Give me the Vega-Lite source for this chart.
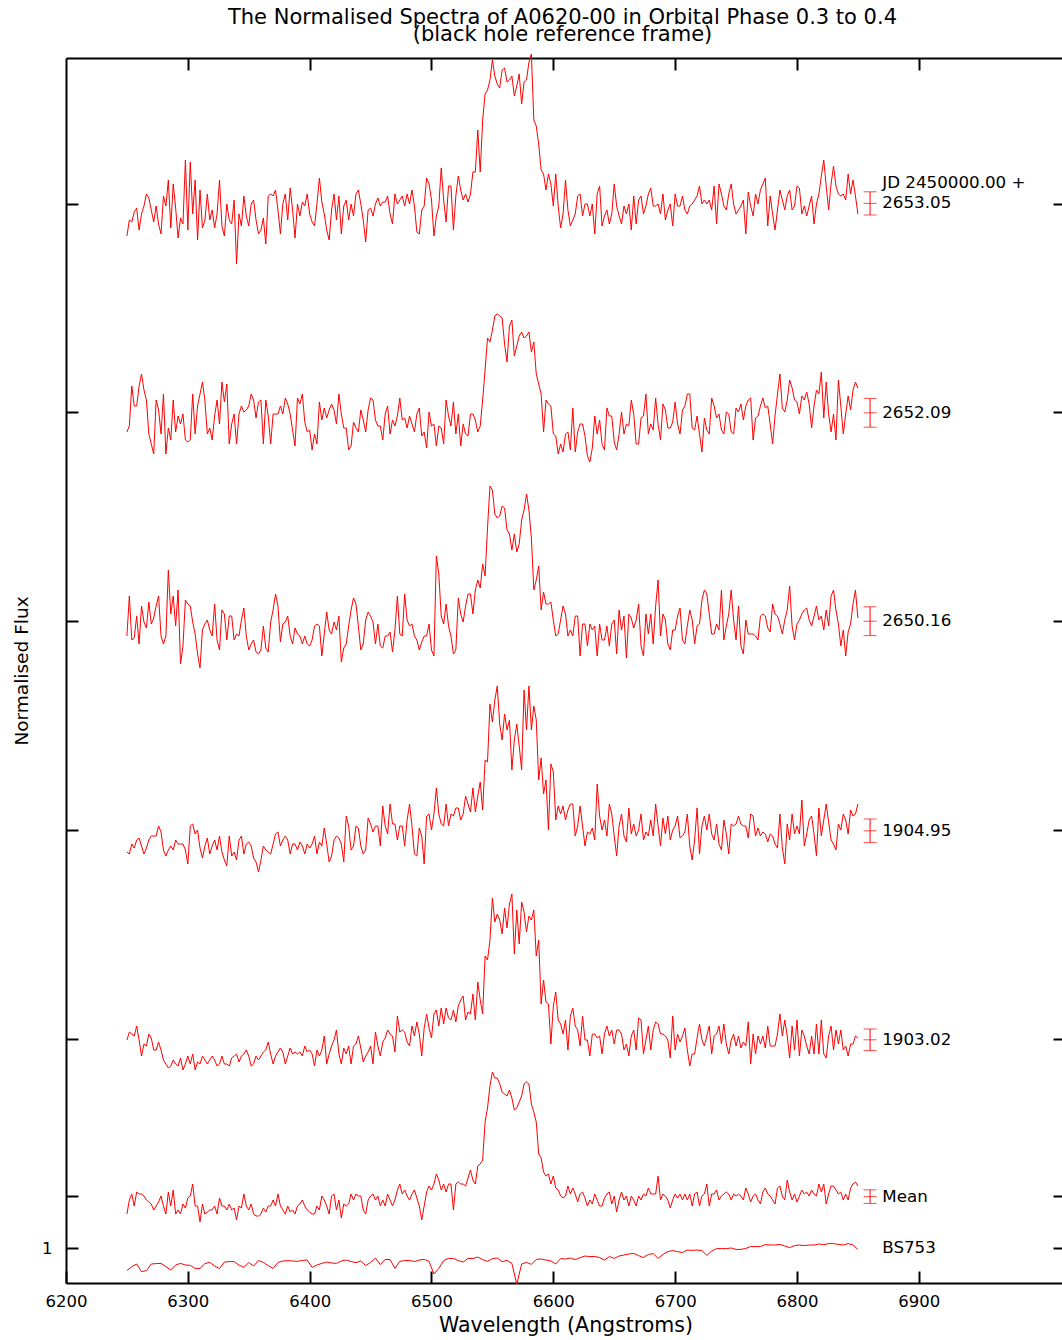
{
"$schema": "https://vega.github.io/schema/vega-lite/v6.json",
"width": 999,
"height": 1225,
"autosize": {"type": "none"},
"padding": {"left": 66, "top": 58, "right": 0, "bottom": 57},
"background": "white",
"title": {"text": "The Normalised Spectra of A0620-00 in Orbital Phase 0.3 to 0.4", "subtitle": "(black hole reference frame)", "font": "DejaVu Sans", "fontSize": 21, "fontWeight": "normal", "color": "black", "subtitleFont": "DejaVu Sans", "subtitleFontSize": 21, "subtitleColor": "black", "anchor": "middle", "offset": 7, "subtitlePadding": -3.5, "dx": -3},
"config": {"view": {"stroke": null}, "axis": {"domainColor": "black", "domainWidth": 2, "tickColor": "black", "tickWidth": 2, "tickSize": -12, "grid": false, "labelFont": "DejaVu Sans", "labelFontSize": 16.5, "labelColor": "black", "labelFlush": false, "titleFont": "DejaVu Sans", "titleFontWeight": "normal", "titleColor": "black"}},
"datasets": {
"spectra": [{
"x": [6250,6252,6254,6256,6258,6260,6262,6264,6266,6268,6270,6272,6274,6276,6278,6280,6282,6284,6286,6288,6290,6292,6294,6296,6298,6300,6302,6304,6306,6308,6310,6312,6314,6316,6318,6320,6322,6324,6326,6328,6330,6332,6334,6336,6338,6340,6342,6344,6346,6348,6350,6352,6354,6356,6358,6360,6362,6364,6366,6368,6370,6372,6374,6376,6378,6380,6382,6384,6386,6388,6390,6392,6394,6396,6398,6400,6402,6404,6406,6408,6410,6412,6414,6416,6418,6420,6422,6424,6426,6428,6430,6432,6434,6436,6438,6440,6442,6444,6446,6448,6450,6452,6454,6456,6458,6460,6462,6464,6466,6468,6470,6472,6474,6476,6478,6480,6482,6484,6486,6488,6490,6492,6494,6496,6498,6500,6502,6504,6506,6508,6510,6512,6514,6516,6518,6520,6522,6524,6526,6528,6530,6532,6534,6536,6538,6540,6542,6544,6546,6548,6550,6552,6554,6556,6558,6560,6562,6564,6566,6568,6570,6572,6574,6576,6578,6580,6582,6584,6586,6588,6590,6592,6594,6596,6598,6600,6602,6604,6606,6608,6610,6612,6614,6616,6618,6620,6622,6624,6626,6628,6630,6632,6634,6636,6638,6640,6642,6644,6646,6648,6650,6652,6654,6656,6658,6660,6662,6664,6666,6668,6670,6672,6674,6676,6678,6680,6682,6684,6686,6688,6690,6692,6694,6696,6698,6700,6702,6704,6706,6708,6710,6712,6714,6716,6718,6720,6722,6724,6726,6728,6730,6732,6734,6736,6738,6740,6742,6744,6746,6748,6750,6752,6754,6756,6758,6760,6762,6764,6766,6768,6770,6772,6774,6776,6778,6780,6782,6784,6786,6788,6790,6792,6794,6796,6798,6800,6802,6804,6806,6808,6810,6812,6814,6816,6818,6820,6822,6824,6826,6828,6830,6832,6834,6836,6838,6840,6842,6844,6846,6848,6850],
"s2653": [6.06,6.14,6.13,6.18,6.2,6.09,6.17,6.21,6.27,6.25,6.19,6.13,6.21,6.12,6.07,6.26,6.21,6.34,6.1,6.32,6.2,6.05,6.15,6.12,6.44,6.09,6.43,6.17,6.34,6.04,6.29,6.1,6.14,6.27,6.14,6.19,6.1,6.17,6.34,6.11,6.06,6.22,6.14,6.12,6.24,5.92,6.17,6.11,6.26,6.16,6.11,6.22,6.24,6.14,6.07,6.09,6.15,6.02,6.26,6.27,6.26,6.29,6.19,6.07,6.22,6.27,6.14,6.3,6.19,6.05,6.22,6.16,6.23,6.21,6.27,6.17,6.13,6.11,6.22,6.35,6.23,6.17,6.09,6.04,6.19,6.27,6.14,6.26,6.07,6.21,6.24,6.14,6.22,6.16,6.27,6.29,6.22,6.14,6.03,6.19,6.2,6.16,6.22,6.25,6.21,6.23,6.23,6.26,6.17,6.12,6.27,6.22,6.24,6.26,6.21,6.27,6.22,6.29,6.21,6.08,6.07,6.19,6.21,6.35,6.32,6.24,6.06,6.16,6.21,6.4,6.24,6.13,6.31,6.31,6.09,6.26,6.36,6.29,6.24,6.27,6.23,6.27,6.38,6.38,6.59,6.38,6.64,6.77,6.79,6.84,6.94,6.86,6.82,6.8,6.89,6.9,6.83,6.84,6.86,6.76,6.81,6.87,6.72,6.83,6.84,6.93,6.97,6.64,6.61,6.52,6.39,6.37,6.29,6.37,6.32,6.21,6.37,6.21,6.1,6.17,6.34,6.19,6.11,6.14,6.17,6.26,6.27,6.16,6.22,6.22,6.16,6.22,6.07,6.27,6.31,6.11,6.16,6.19,6.12,6.17,6.32,6.21,6.16,6.12,6.21,6.17,6.22,6.09,6.26,6.12,6.24,6.26,6.17,6.21,6.27,6.3,6.21,6.21,6.22,6.17,6.27,6.14,6.19,6.22,6.11,6.27,6.21,6.21,6.26,6.19,6.17,6.21,6.22,6.24,6.26,6.31,6.22,6.24,6.22,6.24,6.19,6.31,6.12,6.32,6.27,6.21,6.19,6.27,6.32,6.22,6.17,6.19,6.21,6.24,6.07,6.28,6.21,6.16,6.27,6.22,6.29,6.32,6.35,6.11,6.26,6.17,6.09,6.19,6.29,6.24,6.19,6.26,6.29,6.19,6.21,6.31,6.3,6.17,6.21,6.16,6.21,6.26,6.12,6.22,6.27,6.36,6.44,6.31,6.19,6.32,6.41,6.31,6.27,6.26,6.27,6.24,6.37,6.27,6.34,6.26,6.17],
"s2652": [5.08,5.11,5.31,5.21,5.21,5.31,5.37,5.29,5.24,5.07,5.02,4.97,5.24,5.19,5.07,5.27,4.97,5.1,5.04,5.24,5.08,5.16,5.12,5.17,5.04,5.03,5.04,5.27,5.07,5.21,5.27,5.33,5.24,5.07,5.1,5.04,5.16,5.24,5.12,5.33,5.23,5.32,5.02,5.12,5.17,5.02,5.17,5.21,5.18,5.19,5.21,5.27,5.24,5.15,5.23,5.24,5.02,5.24,5.16,5.02,5.17,5.17,5.17,5.21,5.17,5.25,5.22,5.17,5.09,5.01,5.25,5.22,5.27,5.13,5.08,5.09,4.99,5.07,5.02,5.23,5.14,5.2,5.15,5.19,5.22,5.19,5.12,5.27,5.17,5.1,5.1,4.99,5.01,5.13,5.1,5.08,5.19,5.14,5.08,5.19,5.25,5.24,5.14,5.11,5.11,5.04,5.17,5.21,5.07,5.14,5.11,5.16,5.25,5.14,5.15,5.1,5.16,5.12,5.08,5.17,5.2,5.06,5.08,5.0,5.18,5.11,5.12,5.01,5.11,5.1,5.02,5.24,5.16,5.11,5.23,5.07,5.17,5.01,5.12,5.07,5.06,5.17,5.17,5.14,5.08,5.11,5.24,5.39,5.55,5.53,5.59,5.66,5.67,5.66,5.65,5.52,5.43,5.61,5.64,5.46,5.51,5.56,5.58,5.55,5.56,5.58,5.48,5.53,5.37,5.32,5.27,5.08,5.24,5.22,5.21,5.07,5.06,4.97,5.02,4.98,5.07,5.08,4.99,5.2,4.98,5.08,5.12,5.12,5.06,4.96,4.93,5.0,5.16,5.07,5.14,5.02,4.99,5.2,5.16,5.16,5.03,4.99,5.07,5.18,5.07,5.12,5.11,5.24,5.17,5.02,5.02,5.15,5.16,5.27,5.07,5.12,5.09,5.25,5.12,5.04,5.22,5.19,5.1,5.1,5.13,5.23,5.12,5.07,5.19,5.21,5.27,5.27,5.1,5.09,5.16,5.07,4.98,5.15,5.09,5.07,5.25,5.21,5.15,5.17,5.09,5.07,5.18,5.17,5.08,5.07,5.2,5.18,5.22,5.14,5.21,5.24,5.25,5.04,5.15,5.16,5.21,5.25,5.2,5.21,5.12,5.02,5.16,5.27,5.37,5.2,5.18,5.24,5.34,5.3,5.24,5.23,5.17,5.26,5.24,5.28,5.22,5.1,5.21,5.29,5.27,5.38,5.15,5.33,5.17,5.08,5.17,5.04,5.34,5.21,5.07,5.17,5.26,5.19,5.29,5.33,5.3],
"s2650": [4.06,4.26,4.04,4.05,4.16,4.02,4.21,4.13,4.1,4.23,4.12,4.15,4.21,4.26,4.06,4.02,4.06,4.39,4.17,4.26,4.11,4.29,3.92,4.01,4.24,4.22,4.21,4.13,4.07,3.97,3.9,4.09,4.12,4.14,4.09,4.06,4.22,4.04,3.99,4.19,4.17,4.04,4.16,4.16,4.04,4.07,4.06,4.14,4.2,4.06,3.99,4.02,4.04,3.98,3.97,3.99,4.11,4.0,3.98,4.13,4.19,4.27,4.21,4.03,4.12,4.13,4.16,4.06,4.02,4.1,4.07,4.06,4.02,4.06,4.02,4.01,4.04,4.11,4.12,4.11,3.96,4.07,4.18,4.09,4.07,4.13,4.09,4.16,3.93,4.0,4.02,4.11,4.19,4.25,4.22,4.11,3.99,4.02,4.14,4.18,4.16,4.13,4.02,4.12,4.01,4.0,4.06,4.06,4.08,3.98,4.09,4.26,4.07,4.06,4.27,4.14,4.11,4.12,4.06,4.04,3.99,4.03,4.06,4.06,4.12,3.99,3.96,4.46,4.37,4.16,4.12,4.22,4.11,4.06,3.97,3.99,4.25,4.17,4.13,4.21,4.27,4.27,4.17,4.29,4.34,4.3,4.42,4.36,4.6,4.81,4.79,4.67,4.65,4.66,4.71,4.7,4.59,4.57,4.49,4.57,4.48,4.52,4.64,4.69,4.77,4.69,4.55,4.29,4.34,4.41,4.19,4.28,4.22,4.22,4.23,4.14,4.06,4.07,4.14,4.21,4.17,4.06,4.09,4.06,4.16,4.16,3.96,4.12,4.12,4.01,4.12,4.09,4.11,3.96,4.12,4.04,4.04,4.11,4.01,4.12,4.14,3.97,4.19,4.09,4.16,3.95,4.17,4.15,4.1,4.14,4.22,4.01,3.96,4.17,4.07,4.17,4.02,4.21,4.34,4.06,4.17,4.14,4.02,3.99,4.09,4.09,4.16,4.2,4.04,4.02,4.11,4.19,4.14,4.02,4.11,4.12,4.24,4.29,4.27,4.17,4.07,4.07,4.12,4.09,4.29,4.04,4.11,4.17,4.29,4.14,4.04,4.21,4.01,3.97,4.14,4.07,4.07,4.07,4.06,4.04,4.16,4.17,4.16,4.1,4.08,4.22,4.17,4.16,4.12,4.07,4.14,4.19,4.31,4.11,4.04,4.12,4.14,4.17,4.19,4.2,4.14,4.11,4.16,4.21,4.14,4.16,4.09,4.19,4.11,4.26,4.29,4.19,4.12,4.01,4.09,3.96,4.08,4.12,4.22,4.29,4.15],
"s1904": [2.98,2.97,3.02,3.0,3.04,3.05,3.01,2.97,3.0,3.04,3.06,3.06,3.06,3.11,3.08,2.99,2.96,2.99,3.01,2.99,3.04,3.02,3.02,3.02,2.99,2.92,3.11,3.12,3.07,3.09,3.0,2.95,3.01,3.05,2.97,3.01,3.04,2.99,3.06,2.98,2.94,2.91,3.06,2.96,2.98,2.94,3.04,3.06,2.97,3.02,3.03,3.01,2.95,2.93,2.88,2.94,3.01,2.99,2.98,2.97,3.02,3.07,3.08,3.01,3.04,3.06,3.04,2.97,3.02,3.02,2.99,3.03,3.01,2.97,3.02,3.0,3.02,3.06,2.97,3.03,3.01,3.1,3.02,2.93,2.96,3.04,3.06,3.05,3.02,2.93,3.16,3.11,2.99,3.01,3.11,3.1,3.01,2.97,2.99,3.15,3.12,3.08,3.11,3.11,3.01,3.21,3.11,3.07,3.22,3.12,3.12,3.04,3.11,3.11,3.01,3.14,3.22,3.11,2.97,2.96,3.1,3.06,2.92,3.16,3.17,3.09,3.17,3.3,3.17,3.12,3.11,3.22,3.11,3.17,3.16,3.2,3.2,3.14,3.17,3.26,3.22,3.18,3.3,3.18,3.26,3.33,3.19,3.44,3.43,3.72,3.63,3.74,3.81,3.62,3.54,3.67,3.59,3.64,3.39,3.54,3.62,3.51,3.39,3.79,3.59,3.81,3.59,3.71,3.64,3.34,3.45,3.27,3.34,3.09,3.42,3.38,3.14,3.21,3.17,3.21,3.14,3.19,3.22,3.22,3.06,3.11,3.21,3.11,3.01,3.08,3.07,3.1,3.04,3.32,3.16,3.09,3.14,3.06,3.22,3.17,3.06,2.96,3.11,3.17,3.06,3.03,3.2,3.07,3.12,3.06,3.09,3.17,3.04,3.08,3.06,3.14,3.06,3.22,3.11,3.01,3.15,3.07,3.16,3.04,3.09,3.11,3.16,3.05,3.06,3.08,3.17,3.01,2.94,3.04,3.2,2.97,3.11,3.16,3.09,3.17,3.07,3.04,3.12,3.02,2.99,3.14,3.07,2.97,3.12,3.11,3.12,3.16,3.12,3.11,3.11,3.05,3.17,3.16,3.06,3.1,3.06,3.08,3.07,3.03,3.07,3.06,3.02,3.0,3.17,3.0,2.92,3.12,3.04,3.17,3.07,3.11,3.07,3.24,3.01,3.07,3.14,3.16,3.07,2.96,3.2,3.06,3.14,3.22,3.13,3.04,3.02,2.99,3.12,3.09,3.17,3.14,3.07,3.19,3.16,3.17,3.22],
"s1903": [2.04,2.08,2.07,2.06,2.11,2.04,1.96,2.02,2.01,2.07,2.05,1.99,1.99,2.03,1.99,1.94,1.92,1.9,1.91,1.94,1.92,1.91,1.95,1.89,1.92,1.96,1.92,1.97,1.89,1.93,1.92,1.96,1.94,1.92,1.94,1.96,1.94,1.91,1.92,1.96,1.92,1.92,1.91,1.95,1.96,1.97,1.93,1.96,1.97,1.99,1.96,1.91,1.92,1.96,1.94,1.96,1.98,1.99,2.03,1.97,1.92,1.96,1.98,2.0,1.98,1.92,1.96,2.0,1.97,1.98,1.97,1.98,1.96,2.01,1.98,1.99,1.97,1.91,1.99,1.96,1.99,2.06,1.92,1.97,2.01,2.04,2.09,1.97,1.92,2.0,1.97,2.01,1.92,2.01,2.02,2.06,2.0,1.93,1.96,1.98,2.01,1.92,2.08,2.01,1.96,2.03,2.05,2.09,2.07,2.06,1.98,2.16,2.08,2.09,2.08,2.03,2.01,2.11,2.06,2.13,2.07,1.96,2.1,2.17,2.1,2.05,2.17,2.19,2.11,2.2,2.12,2.2,2.15,2.14,2.19,2.13,2.21,2.24,2.26,2.14,2.18,2.17,2.27,2.14,2.33,2.24,2.17,2.46,2.44,2.54,2.75,2.63,2.67,2.64,2.57,2.7,2.6,2.72,2.77,2.47,2.69,2.52,2.73,2.68,2.58,2.66,2.64,2.69,2.46,2.54,2.22,2.34,2.23,2.22,2.02,2.21,2.28,2.14,2.12,2.07,2.14,1.99,2.16,2.2,2.11,2.09,2.01,2.16,2.04,2.04,1.96,2.07,2.07,2.05,2.06,1.97,2.07,2.11,2.06,2.09,2.02,2.09,2.09,2.07,1.99,2.02,1.96,2.06,2.09,1.99,2.15,2.14,1.97,2.04,2.11,1.99,2.09,2.13,2.12,2.07,2.07,2.06,2.04,1.95,2.16,1.99,2.07,2.03,2.06,2.1,1.99,1.91,1.97,1.97,2.05,2.12,2.04,2.01,2.06,2.11,1.97,2.06,2.07,2.11,2.02,2.12,2.02,1.97,2.04,2.07,2.01,2.06,2.0,2.03,2.01,2.13,1.92,2.07,1.97,2.06,2.02,2.06,2.0,2.11,2.01,2.01,2.01,2.07,2.17,2.06,2.14,2.06,1.95,2.11,1.99,2.14,1.96,2.09,2.06,2.01,1.97,2.06,1.97,2.12,1.97,2.14,1.97,1.95,2.06,2.11,1.99,2.09,2.02,2.09,1.99,2.01,1.96,2.02,2.02,2.06,2.05],
"mean": [1.17,1.24,1.27,1.21,1.28,1.27,1.27,1.26,1.24,1.23,1.22,1.19,1.21,1.23,1.26,1.21,1.17,1.28,1.21,1.29,1.17,1.19,1.17,1.22,1.2,1.25,1.26,1.32,1.21,1.21,1.13,1.22,1.17,1.18,1.19,1.19,1.21,1.17,1.25,1.21,1.21,1.19,1.22,1.19,1.2,1.14,1.21,1.2,1.27,1.21,1.19,1.22,1.17,1.16,1.16,1.17,1.2,1.18,1.21,1.21,1.24,1.21,1.27,1.21,1.19,1.17,1.21,1.18,1.19,1.17,1.21,1.22,1.24,1.21,1.19,1.18,1.17,1.17,1.21,1.19,1.26,1.24,1.21,1.17,1.26,1.27,1.19,1.24,1.15,1.22,1.21,1.22,1.27,1.24,1.27,1.26,1.26,1.19,1.17,1.24,1.26,1.27,1.24,1.26,1.21,1.24,1.21,1.27,1.24,1.21,1.24,1.29,1.32,1.27,1.29,1.26,1.24,1.27,1.29,1.25,1.21,1.14,1.21,1.28,1.31,1.29,1.32,1.37,1.34,1.29,1.32,1.28,1.32,1.32,1.19,1.32,1.33,1.32,1.32,1.31,1.35,1.39,1.34,1.32,1.41,1.42,1.44,1.63,1.7,1.81,1.88,1.85,1.85,1.82,1.78,1.77,1.76,1.79,1.75,1.69,1.7,1.73,1.76,1.82,1.83,1.82,1.72,1.68,1.63,1.47,1.45,1.38,1.36,1.37,1.32,1.36,1.3,1.29,1.26,1.25,1.26,1.31,1.27,1.3,1.27,1.23,1.27,1.28,1.25,1.21,1.24,1.22,1.27,1.24,1.21,1.21,1.25,1.27,1.28,1.22,1.26,1.18,1.24,1.28,1.24,1.26,1.21,1.26,1.24,1.21,1.26,1.24,1.27,1.26,1.3,1.27,1.27,1.27,1.36,1.24,1.27,1.26,1.24,1.2,1.24,1.27,1.25,1.27,1.24,1.27,1.24,1.27,1.21,1.27,1.28,1.21,1.26,1.27,1.32,1.21,1.27,1.27,1.29,1.24,1.26,1.27,1.28,1.27,1.24,1.27,1.26,1.27,1.26,1.24,1.3,1.27,1.23,1.26,1.27,1.24,1.22,1.28,1.3,1.27,1.26,1.24,1.22,1.3,1.31,1.26,1.24,1.34,1.28,1.24,1.27,1.23,1.26,1.29,1.27,1.28,1.26,1.29,1.27,1.26,1.32,1.28,1.32,1.22,1.27,1.31,1.31,1.29,1.27,1.28,1.24,1.27,1.24,1.3,1.32,1.33,1.31]
}],
"bs753": [{
"x": [6250,6254,6258,6262,6266,6270,6274,6278,6282,6286,6290,6294,6298,6302,6306,6310,6314,6318,6322,6326,6330,6334,6338,6342,6346,6350,6354,6358,6362,6366,6370,6374,6378,6382,6386,6390,6394,6398,6402,6406,6410,6414,6418,6422,6426,6430,6434,6438,6442,6446,6450,6454,6458,6462,6466,6470,6474,6478,6482,6486,6490,6494,6498,6502,6506,6510,6514,6518,6522,6526,6530,6534,6538,6542,6546,6550,6554,6558,6562,6566,6570,6574,6578,6582,6586,6590,6594,6598,6602,6606,6610,6614,6618,6622,6626,6630,6634,6638,6642,6646,6650,6654,6658,6662,6666,6670,6674,6678,6682,6686,6690,6694,6698,6702,6706,6710,6714,6718,6722,6726,6730,6734,6738,6742,6746,6750,6754,6758,6762,6766,6770,6774,6778,6782,6786,6790,6794,6798,6802,6806,6810,6814,6818,6822,6826,6830,6834,6838,6842,6846,6850],
"y": [0.887,0.907,0.92,0.882,0.887,0.92,0.922,0.923,0.907,0.89,0.915,0.923,0.915,0.913,0.898,0.898,0.922,0.928,0.91,0.897,0.93,0.932,0.932,0.915,0.903,0.927,0.91,0.937,0.928,0.912,0.898,0.928,0.935,0.937,0.935,0.933,0.938,0.94,0.903,0.915,0.923,0.93,0.925,0.923,0.935,0.94,0.932,0.927,0.935,0.912,0.928,0.95,0.917,0.943,0.942,0.898,0.933,0.937,0.938,0.932,0.94,0.943,0.933,0.87,0.898,0.937,0.948,0.948,0.937,0.93,0.948,0.947,0.955,0.942,0.933,0.947,0.95,0.932,0.938,0.923,0.82,0.92,0.928,0.918,0.943,0.945,0.94,0.935,0.92,0.947,0.945,0.95,0.942,0.952,0.96,0.957,0.958,0.952,0.94,0.957,0.948,0.96,0.965,0.97,0.973,0.962,0.952,0.968,0.972,0.948,0.968,0.982,0.987,0.982,0.977,0.99,0.988,0.99,0.987,0.963,0.985,0.997,0.997,0.997,1.0,0.993,0.993,0.998,1.007,1.007,1.007,1.017,1.015,1.015,1.018,1.01,1.002,1.012,1.015,1.012,1.015,1.015,1.02,1.017,1.022,1.022,1.018,1.015,1.022,1.015,0.993]
}],
"labels": [
{"x": 6870, "y": 6.325, "t": "JD 2450000.00 +"},
{"x": 6870, "y": 6.223, "t": "2653.05"},
{"x": 6870, "y": 5.176, "t": "2652.09"},
{"x": 6870, "y": 4.134, "t": "2650.16"},
{"x": 6870, "y": 3.086, "t": "1904.95"},
{"x": 6870, "y": 2.041, "t": "1903.02"},
{"x": 6870, "y": 1.257, "t": "Mean"},
{"x": 6870, "y": 1.0, "t": "BS753"}
],
"errors": [
{"x": 6860, "lo": 6.165, "mid": 6.223, "hi": 6.281},
{"x": 6860, "lo": 5.104, "mid": 5.176, "hi": 5.248},
{"x": 6860, "lo": 4.062, "mid": 4.134, "hi": 4.206},
{"x": 6860, "lo": 3.027, "mid": 3.086, "hi": 3.145},
{"x": 6860, "lo": 1.987, "mid": 2.041, "hi": 2.095},
{"x": 6860, "lo": 1.223, "mid": 1.257, "hi": 1.291}
]
},
"layer": [
{
"data": {"name": "spectra"},
"transform": [{"flatten": ["x", "s2653", "s2652", "s2650", "s1904", "s1903", "mean"]}, {"fold": ["s2653", "s2652", "s2650", "s1904", "s1903", "mean"], "as": ["series", "flux"]}],
"mark": {"type": "line", "color": "#ff0000", "strokeWidth": 1},
"encoding": {
"x": {"field": "x", "type": "quantitative", "scale": {"domain": [6200, 7020], "nice": false, "zero": false}, "axis": {"orient": "bottom", "values": [6200, 6300, 6400, 6500, 6600, 6700, 6800, 6900], "format": "d", "title": "Wavelength (Angstroms)", "titleFontSize": 20.5, "labelPadding": 22, "titlePadding": 6}},
"y": {"field": "flux", "type": "quantitative", "scale": {"domain": [0.825, 6.95], "nice": false, "zero": false}, "axis": {"orient": "left", "values": [1, 1.26, 2.045, 3.09, 4.135, 5.18, 6.22], "labelExpr": "datum.value == 1 ? '1' : ''", "title": "Normalised Flux", "titleFontSize": 18.5, "labelPadding": 26, "titlePadding": 10}},
"detail": {"field": "series"}
}
},
{
"data": {"name": "bs753"},
"transform": [{"flatten": ["x", "y"]}],
"mark": {"type": "line", "color": "#ff0000", "strokeWidth": 1},
"encoding": {
"x": {"field": "x", "type": "quantitative", "scale": {"domain": [6200, 7020], "nice": false, "zero": false}, "axis": {"orient": "top", "values": [6300, 6400, 6500, 6600, 6700, 6800, 6900], "labels": false, "title": null}},
"y": {"field": "y", "type": "quantitative", "scale": {"domain": [0.825, 6.95], "nice": false, "zero": false}, "axis": {"orient": "right", "values": [1, 1.26, 2.045, 3.09, 4.135, 5.18, 6.22], "labels": false, "title": null}}
}
},
{
"data": {"name": "errors"},
"mark": {"type": "rule", "color": "#ff0000", "strokeWidth": 1},
"encoding": {
"x": {"field": "x", "type": "quantitative", "axis": null},
"y": {"field": "lo", "type": "quantitative", "axis": null},
"y2": {"field": "hi"}
}
},
{
"data": {"name": "errors"},
"transform": [{"fold": ["lo", "mid", "hi"], "as": ["part", "v"]}],
"mark": {"type": "tick", "orient": "horizontal", "color": "#ff0000", "size": 13, "thickness": 1},
"encoding": {
"x": {"field": "x", "type": "quantitative", "axis": null},
"y": {"field": "v", "type": "quantitative", "axis": null}
}
},
{
"data": {"name": "labels"},
"mark": {"type": "text", "align": "left", "baseline": "middle", "font": "DejaVu Sans", "fontSize": 16.7, "color": "black"},
"encoding": {
"x": {"field": "x", "type": "quantitative", "axis": null},
"y": {"field": "y", "type": "quantitative", "axis": null},
"text": {"field": "t"}
}
}
],
"resolve": {"axis": {"x": "independent", "y": "independent"}}
}
